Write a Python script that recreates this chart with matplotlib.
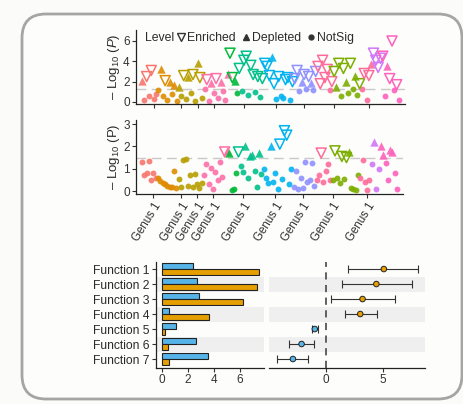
import numpy as np
import matplotlib.pyplot as plt
from matplotlib.lines import Line2D
from matplotlib.patches import FancyBboxPatch

plt.rcParams['font.family'] = ['Liberation Sans', 'DejaVu Sans']
plt.rcParams['mathtext.fontset'] = 'custom'
plt.rcParams['mathtext.rm'] = 'Liberation Sans'
plt.rcParams['mathtext.it'] = 'Liberation Sans:italic'

# ---- manhattan data (one list per taxon group, in x order) ----
group_colors = ['#F8766D', '#DE8C00', '#B79F00', '#FC6FA8', '#00BA38', '#00C08B', '#00B4EF',
                '#8F91FF', '#FF6C9C', '#7CAE00', '#FF6C9C', '#D177F7', '#FF62BC']
group_sizes = [7, 9, 11, 11, 4, 11, 13, 10, 7, 12, 5, 4, 8]

top_y = [[2.1, 0.2, 2.5, 0.6, 3.1, 0.3, 0.8],
         [1.2, 3.2, 0.6, 2.1, 0.2, 2.0, 0.8, 1.7, 0.1],
         [1.5, 0.6, 2.6, 0.3, 2.5, 0.9, 2.7, 0.1, 3.8, 2.4, 0.4],
         [1.3, 2.2, 0.1, 1.9, 0.9, 2.3, 0.4, 2.0, 1.1, 0.2, 2.8],
         [4.8, 2.4, 2.1, 0.9],
         [3.3, 1.1, 4.1, 4.5, 0.7, 3.6, 2.7, 1.0, 2.5, 0.5, 2.3],
         [3.8, 3.5, 2.6, 4.4, 1.8, 0.3, 2.5, 0.6, 0.4, 2.2, 2.4, 0.2, 2.0],
         [2.3, 3.1, 1.1, 2.0, 2.7, 1.3, 2.5, 1.9, 1.2, 3.0],
         [3.5, 1.8, 4.1, 2.4, 3.2, 1.2, 2.0],
         [3.0, 1.5, 3.8, 0.6, 3.3, 2.0, 0.9, 3.8, 1.3, 2.6, 0.7, 1.8],
         [1.3, 2.8, 0.2, 2.6, 3.7],
         [4.8, 4.1, 3.4, 4.3],
         [4.5, 0.6, 3.5, 2.3, 6.0, 1.2, 1.7, 0.2]]
top_lv = ["DNENENN", "NDNENDNDN", "DNENDNENDEN", "NENDNENDNND", "EEDN", "ENEENEENENE",
          "EEEDENENNEENE", "EENDENEDNE", "EEEEENE", "EDENEDNENDNE", "NENED", "EEEE", "ENDEENEN"]

mid_y = [[1.3, 0.7, 0.8, 1.35, 0.5, 0.8, 0.6],
         [0.6, 0.45, 0.35, 0.3, 0.25, 0.2, 0.2, 0.9, 0.15],
         [0.55, 0.2, 1.4, 1.45, 0.25, 0.7, 0.2, 0.75, 0.3, 0.15, 0.35],
         [0.7, 1.2, 0.3, 1.05, 0.1, 0.85, 0.5, 1.3, 0.65, 1.75, 1.8],
         [1.7, 0.05, 0.1, 0.8],
         [1.75, 1.1, 0.85, 2.0, 0.6, 1.55, 1.6, 0.9, 0.2, 1.7, 0.75],
         [1.0, 0.6, 0.35, 2.0, 0.4, 0.8, 0.1, 2.1, 0.55, 2.7, 2.5, 0.3, 1.0],
         [0.2, 0.9, 0.1, 0.6, 0.15, 1.3, 0.4, 0.5, 1.25, 0.25],
         [0.5, 0.7, 1.7, 0.4, 0.9, 1.2, 0.5],
         [0.5, 1.8, 0.6, 0.35, 1.55, 0.55, 1.5, 1.75, 0.15, 0.1, 0.05, 0.7],
         [0.6, 1.4, 0.4, 0.05, 0.5],
         [1.2, 2.2, 0.1, 1.0],
         [2.0, 1.6, 1.25, 0.5, 1.85, 1.75, 0.8, 0.1]]
mid_lv = ["NNNNNNN", "NNNNNNNNN", "NNNNNNNNNNN", "NNNNNNNNNED", "DNNN", "ENNDNDDNNDN",
          "NNNDNNNENEENN", "NNNNNNNNNN", "NNENNNN", "NENNENEDNNNN", "NNNNN", "NDNN", "DDNNDDNN"]

genus_ticks = [5, 17, 24, 31, 44, 58, 70, 83, 98]
genus_labels = ['Genus 1'] * 9
top_cut = 1.3
mid_cut = 1.5

# ---- function data ----
functions = ['Function 1', 'Function 2', 'Function 3', 'Function 4',
             'Function 5', 'Function 6', 'Function 7']
blue_vals = [2.35, 2.7, 2.85, 0.55, 1.1, 2.6, 3.5]
orange_vals = [7.45, 7.3, 6.2, 3.65, 0.2, 0.45, 0.52]
diff_mean = [5.05, 4.4, 3.2, 3.0, -0.95, -2.1, -2.85]
diff_lo = [1.95, 1.4, 0.5, 1.7, -1.2, -3.2, -4.25]
diff_hi = [8.05, 7.5, 6.05, 4.45, -0.65, -1.0, -1.5]

BLUE = '#56B4E9'
ORANGE = '#E69F00'
TXT = '#2b2b2b'

fig = plt.figure(figsize=(4.63, 4.04), dpi=100, facecolor='#fbfbf9')
fig.patches.append(FancyBboxPatch((22, 5), 440, 385, boxstyle='round,pad=0,rounding_size=24',
                                  transform=None, facecolor='#fdfdfb', edgecolor='#a5a5a5',
                                  linewidth=2, zorder=-5))


def manhattan(ax, ys, lvs, cut):
    x0 = 0
    for col, n, yv, lv in zip(group_colors, group_sizes, ys, lvs):
        x = np.arange(x0, x0 + n)
        yv = np.array(yv)
        lv = np.array(list(lv))
        m = lv == 'N'
        ax.scatter(x[m], yv[m], marker='o', s=18, color=col, linewidths=0, alpha=0.9, zorder=2)
        m = lv == 'D'
        ax.scatter(x[m], yv[m], marker='^', s=36, color=col, linewidths=0, alpha=0.9, zorder=3)
        m = lv == 'E'
        ax.scatter(x[m], yv[m], marker='v', s=52, facecolors='none', edgecolors=col,
                   linewidths=1.1, zorder=3)
        x0 += n
    ax.axhline(cut, color='#c9c9c9', lw=1, dashes=(7, 4), zorder=1)
    ax.set_xlim(-2.6, x0 + 1.6)
    ax.set_xticks(genus_ticks)
    for s in ['top', 'right']:
        ax.spines[s].set_visible(False)
    for s in ['left', 'bottom']:
        ax.spines[s].set_color('#222222')
        ax.spines[s].set_linewidth(0.9)
    ax.tick_params(length=3, width=0.8, colors='#333333', labelsize=8.5, pad=1.5)
    ax.set_facecolor('none')


ax1 = fig.add_axes([0.2937, 0.7418, 0.581, 0.1839])
manhattan(ax1, top_y, top_lv, top_cut)
ax1.set_ylim(-0.23, 7.08)
ax1.set_yticks([0, 2, 4, 6])
ax1.set_xticklabels([])
ax1.set_ylabel('\u2013 Log$_{10}$ ($P$)', fontsize=9.5, color=TXT, labelpad=1)
ax1.text(0.035, 0.89, 'Level', transform=ax1.transAxes, va='center', ha='left',
         fontsize=8.8, color=TXT)
handles = [Line2D([], [], marker='v', ls='', mfc='none', mec='#333333', ms=6, mew=1),
           Line2D([], [], marker='^', ls='', color='#333333', ms=5),
           Line2D([], [], marker='o', ls='', color='#333333', ms=3.5)]
ax1.legend(handles, ['Enriched', 'Depleted', 'NotSig'], ncol=3, frameon=False,
           loc='center left', bbox_to_anchor=(0.15, 0.89), fontsize=8.8,
           handlelength=0.7, handletextpad=0.15, columnspacing=0.5, borderpad=0,
           borderaxespad=0, labelcolor=TXT)

ax2 = fig.add_axes([0.2937, 0.5198, 0.5767, 0.1832])
manhattan(ax2, mid_y, mid_lv, mid_cut)
ax2.set_ylim(-0.13, 3.18)
ax2.set_yticks([0, 1, 2, 3])
ax2.set_xticklabels(genus_labels, rotation=58, ha='right', rotation_mode='anchor',
                    fontsize=8.3)
ax2.set_ylabel('\u2013 Log$_{10}$ (P)', fontsize=9.5, color=TXT, labelpad=1)

# ---- bar panel ----
ypos = np.arange(len(functions))
ax3 = fig.add_axes([0.337, 0.0891, 0.2333, 0.2624])
for i in ypos[1::2]:
    ax3.axhspan(i - 0.5, i + 0.5, color='#efefef', lw=0, zorder=0)
ax3.barh(ypos - 0.2, blue_vals, height=0.4, color=BLUE, edgecolor='#222222', lw=0.8, zorder=2)
ax3.barh(ypos + 0.2, orange_vals, height=0.4, color=ORANGE, edgecolor='#222222', lw=0.8, zorder=2)
ax3.set_ylim(6.6, -0.47)
ax3.set_xlim(-0.46, 7.85)
ax3.set_yticks(ypos)
ax3.set_yticklabels(functions)
ax3.set_xticks([0, 2, 4, 6])
for s in ['top', 'right']:
    ax3.spines[s].set_visible(False)
for s in ['left', 'bottom']:
    ax3.spines[s].set_color('#222222')
    ax3.spines[s].set_linewidth(0.9)
ax3.tick_params(length=3, width=0.8, colors='#333333', labelsize=8.5, pad=1.5)
ax3.tick_params(axis='y', labelsize=8.7, labelcolor=TXT)
ax3.set_facecolor('none')

# ---- difference panel ----
ax4 = fig.add_axes([0.581, 0.0891, 0.337, 0.2624])
for i in ypos[1::2]:
    ax4.axhspan(i - 0.5, i + 0.5, color='#efefef', lw=0, zorder=0)
mean = np.array(diff_mean)
ax4.axvline(0, color='#555555', lw=1.3, dashes=(4, 3), zorder=1)
ax4.errorbar(mean, ypos, xerr=[mean - np.array(diff_lo), np.array(diff_hi) - mean],
             fmt='none', ecolor='#333333', elinewidth=0.8, capsize=3, capthick=0.8, zorder=2)
ax4.scatter(mean, ypos, c=[ORANGE if v > 0 else BLUE for v in mean], s=16,
            edgecolors='#222222', linewidths=0.7, zorder=3)
ax4.set_ylim(6.6, -0.47)
ax4.set_xlim(-4.93, 8.63)
ax4.set_yticks([])
ax4.set_xticks([0, 5])
for s in ['top', 'right', 'left']:
    ax4.spines[s].set_visible(False)
ax4.spines['bottom'].set_color('#222222')
ax4.spines['bottom'].set_linewidth(0.9)
ax4.tick_params(length=3, width=0.8, colors='#333333', labelsize=8.5, pad=1.5)
ax4.set_facecolor('none')

fig.savefig('out.png', dpi=100, facecolor=fig.get_facecolor())
